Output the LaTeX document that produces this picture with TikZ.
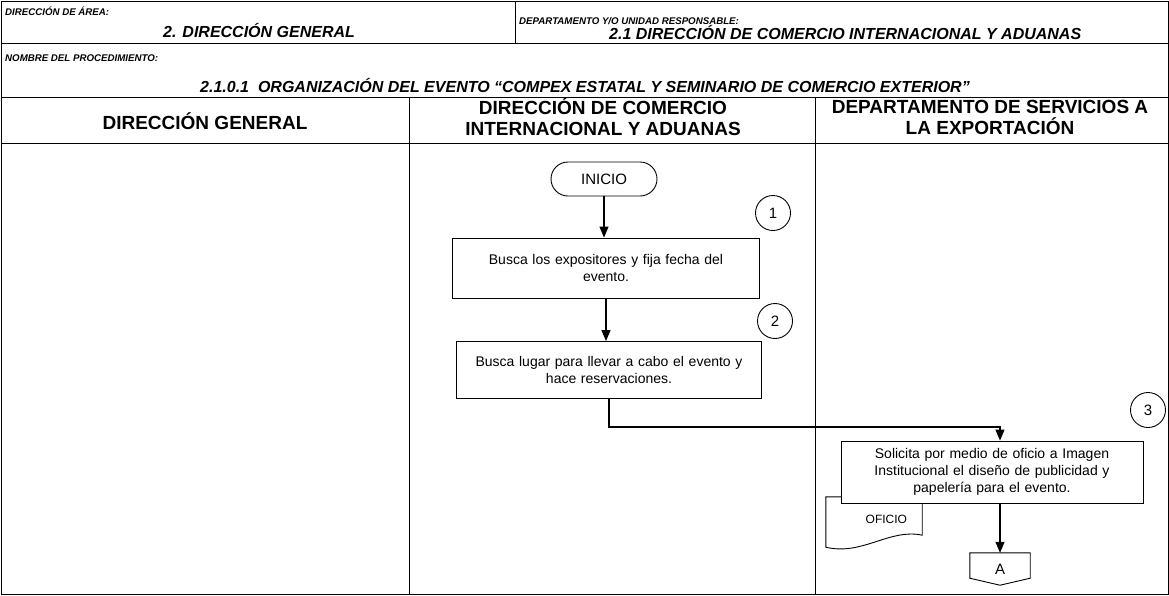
\documentclass[tikz,border=0pt]{standalone}
\usepackage{fontspec}
\setmainfont{Liberation Sans}
\usetikzlibrary{positioning,arrows.meta,calc}

\begin{document}
\begin{tikzpicture}[x=1pt,y=-1pt,
      lbl/.style={font=\fontsize{9.7}{11}\selectfont\bfseries\itshape,anchor=base west,inner sep=0pt},
      ttl/.style={font=\fontsize{16}{18}\selectfont\bfseries\itshape,anchor=base west,inner sep=0pt},
      lane/.style={font=\fontsize{19}{21}\selectfont\bfseries,align=center,inner sep=0pt},
      box/.style={draw,fill=white,line width=0.9pt,align=center,font=\fontsize{14}{17}\selectfont},
      term/.style={draw,rounded corners=17pt,line width=0.9pt,minimum width=106pt,minimum height=34pt,font=\fontsize{15}{17}\selectfont},
      num/.style={draw,circle,line width=0.9pt,minimum size=35pt,inner sep=0pt,font=\fontsize{15}{17}\selectfont},
      arrow/.style={-{Triangle[length=11pt,width=9pt]},line width=1.2pt},
      frame/.style={line width=1pt}]
    \useasboundingbox (0,0) rectangle (1169,595);
    % form frame
    \draw[frame] (1,1) rectangle (1168,594);
    \draw[frame] (1,43) -- (1168,43);
    \draw[frame] (515,1) -- (515,43);
    \draw[frame] (1,97) -- (1168,97);
    \draw[frame] (1,143) -- (1168,143);
    \draw[frame] (409,97) -- (409,594);
    \draw[frame] (815,97) -- (815,594);
    % header texts
    \node[lbl] (areaLbl) at (5,15) {DIRECCIÓN DE ÁREA:};
    \node[ttl] (areaVal) at (163,37) {2. DIRECCIÓN GENERAL};
    \node[lbl] (deptLbl) at (519,24) {DEPARTAMENTO Y/O UNIDAD RESPONSABLE:};
    \node[ttl] (deptVal) at (609,39) {2.1 DIRECCIÓN DE COMERCIO INTERNACIONAL Y ADUANAS};
    \node[lbl] (procLbl) at (5,61) {NOMBRE DEL PROCEDIMIENTO:};
    \node[ttl] (procVal) at (200,92) {2.1.0.1\ \ ORGANIZACIÓN DEL EVENTO “COMPEX ESTATAL Y SEMINARIO DE COMERCIO EXTERIOR”};
    % lanes
    \node[lane] (laneDG) at (205,121) {DIRECCIÓN GENERAL};
    \node[lane] (laneDCI) at (603,117) {DIRECCIÓN DE COMERCIO\\INTERNACIONAL Y ADUANAS};
    \node[lane] (laneDSE) at (990,117) {DEPARTAMENTO DE SERVICIOS A\\LA EXPORTACIÓN};
    % flow
    \node[term] (inicio) at (604,179) {INICIO};
    \node[box,minimum width=307pt,minimum height=60pt,text width=292pt] (busca) at (606,268) {Busca los expositores y fija fecha del\\evento.};
    \node[box,minimum width=305pt,minimum height=57pt,text width=292pt] (lugar) at (609,370) {Busca lugar para llevar a cabo el evento y\\hace reservaciones.};
    \node[num] (n1) at (773,213) {1};
    \node[num] (n2) at (775,321) {2};
    \node[num] (n3) at (1148,410) {3};
    \node[minimum width=96pt,minimum height=44pt,text width=66pt,align=right,font=\fontsize{12}{14}\selectfont] (oficio) at (874,519) {OFICIO};
    \draw[line width=0.9pt] (oficio.south west) |- (oficio.north east) -- ($(oficio.south east)+(0,-6)$)
      .. controls (890,528) and (862,556) .. ($(oficio.south west)+(0,6)$) -- cycle;
    \node[box,minimum width=302pt,minimum height=62pt,text width=284pt] (solicita) at (992,472) {Solicita por medio de oficio a Imagen\\Institucional el diseño de publicidad y\\papelería para el evento.};
    \node[minimum width=60pt,minimum height=32pt,font=\fontsize{15}{17}\selectfont] (conA) at (1000,569) {A};
    \draw[line width=0.9pt] (conA.north west) -- (conA.north east) -- ([yshift=7pt]conA.south east)
      -- (conA.south) -- ([yshift=7pt]conA.south west) -- cycle;
    \draw[arrow] (inicio) -- (inicio |- busca.north);
    \draw[arrow] (busca) -- (busca |- lugar.north);
    \draw[arrow] (lugar.south) -- ++(0,28) -| (conA |- solicita.north);
    \draw[arrow] (conA |- solicita.south) -- (conA.north);
  \end{tikzpicture}
\end{document}
